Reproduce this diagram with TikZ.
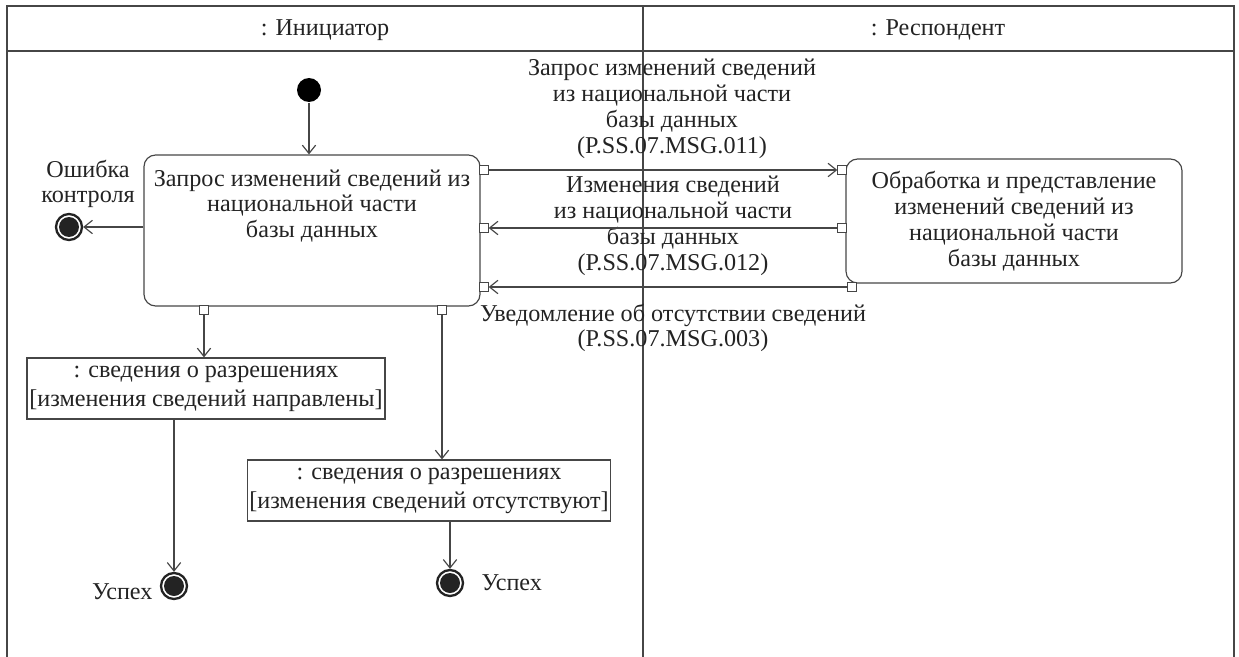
\documentclass[tikz,border=0pt]{standalone}
\usepackage{fontspec}
\setmainfont{Liberation Serif}
\usetikzlibrary{arrows.meta}
\definecolor{umlline}{RGB}{70,70,70}
\definecolor{umltext}{RGB}{35,35,35}

\begin{document}
\begin{tikzpicture}[x=0.6pt, y=-0.6pt, line width=0.7pt,
    every node/.style={text=umltext, font=\fontsize{14.5}{15.5}\selectfont},
    flow/.style={draw=umlline, -{Straight Barb[length=5pt, width=8pt]}},
    action/.style={draw=umlline, rounded corners=7pt, minimum width=201.6pt, align=center},
    objnode/.style={draw=umlline, align=center, minimum height=36.6pt, inner xsep=1pt},
    pin/.style={draw=umlline, fill=white, line width=0.6pt, minimum size=5pt, inner sep=0pt},
    msg/.style={align=center, inner sep=0pt}]
    \def\finalstate#1#2{
        \node[circle, draw=umltext, line width=1.4pt, minimum size=15.6pt, inner sep=0pt] (#1) at (#2) {};
        \fill[umltext] (#1) circle (6pt);
    }
    \useasboundingbox (0,0) rectangle (1239,657);

    % Swimlanes
    \draw[umlline] (7,657) -- (7,6) -- (1234,6) -- (1234,657);
    \draw[umlline, line width=0.9pt] (7,51) -- (1234,51);
    \draw[umlline] (643,6) -- (643,657);
    \node (laneA) at (325,30) {: Инициатор};
    \node (laneB) at (938,30) {: Респондент};

    % Initiator (Left)
    \node[circle, fill=black, minimum size=14.4pt, inner sep=0pt] (init) at (309,90) {};
    \node[action, minimum height=90.6pt] (boxA) at (312,230.5) {};
    \node[msg] (boxAtxt) at (312,206) {Запрос изменений сведений из\\национальной части\\базы данных};
    \node[pin] (pAout) at (484,170) {};
    \node[pin] (pAin1) at (484,228) {};
    \node[pin] (pAin2) at (484,287) {};
    \node[pin] (pAdown1) at (204,310) {};
    \node[pin] (pAdown2) at (442,310) {};

    \finalstate{finErr}{69,227}
    \node[msg] (errLabel) at (88,184) {Ошибка\\контроля};

    \node[objnode, minimum width=214.8pt] (obj1) at (206,388.5) {: сведения о разрешениях\\[2pt]{}[изменения сведений направлены]};
    \node[objnode, minimum width=201.6pt] (obj2) at (429,490.5) {: сведения о разрешениях\\[2pt]{}[изменения сведений отсутствуют]};

    \finalstate{fin1}{174,586}
    \node[anchor=east, inner sep=0pt] (fin1Label) at (153,592) {Успех};
    \finalstate{fin2}{450,583}
    \node[anchor=west, inner sep=0pt] (fin2Label) at (481,583) {Успех};

    % Respondent (Right)
    \node[action, minimum height=74.4pt] (boxB) at (1014,221) {Обработка и представление\\изменений сведений из\\национальной части\\базы данных};
    \node[pin] (pBin) at (842,170) {};
    \node[pin] (pBout1) at (842,228) {};
    \node[pin] (pBout2) at (852,287) {};

    % Messages
    \node[msg] (msg1) at (672,109) {Запрос изменений сведений\\из национальной части\\базы данных\\(P.SS.07.MSG.011)};
    \node[msg] (msg2) at (673,226) {Изменения сведений\\из национальной части\\базы данных\\(P.SS.07.MSG.012)};
    \node[msg] (msg3) at (673,328) {Уведомление об отсутствии сведений\\(P.SS.07.MSG.003)};

    % Control flows
    \draw[flow] (init) -- (init |- boxA.north);
    \draw[flow] (boxA.west |- finErr) -- (finErr);
    \draw[flow] (pAout) -- (pBin);
    \draw[flow] (pBout1) -- (pAin1);
    \draw[flow] (pBout2) -- (pAin2);
    \draw[flow] (pAdown1) -- (pAdown1 |- obj1.north);
    \draw[flow] (pAdown2) -- (pAdown2 |- obj2.north);
    \draw[flow] (obj1.south -| fin1) -- (fin1);
    \draw[flow] (obj2.south -| fin2) -- (fin2);
\end{tikzpicture}
\end{document}
